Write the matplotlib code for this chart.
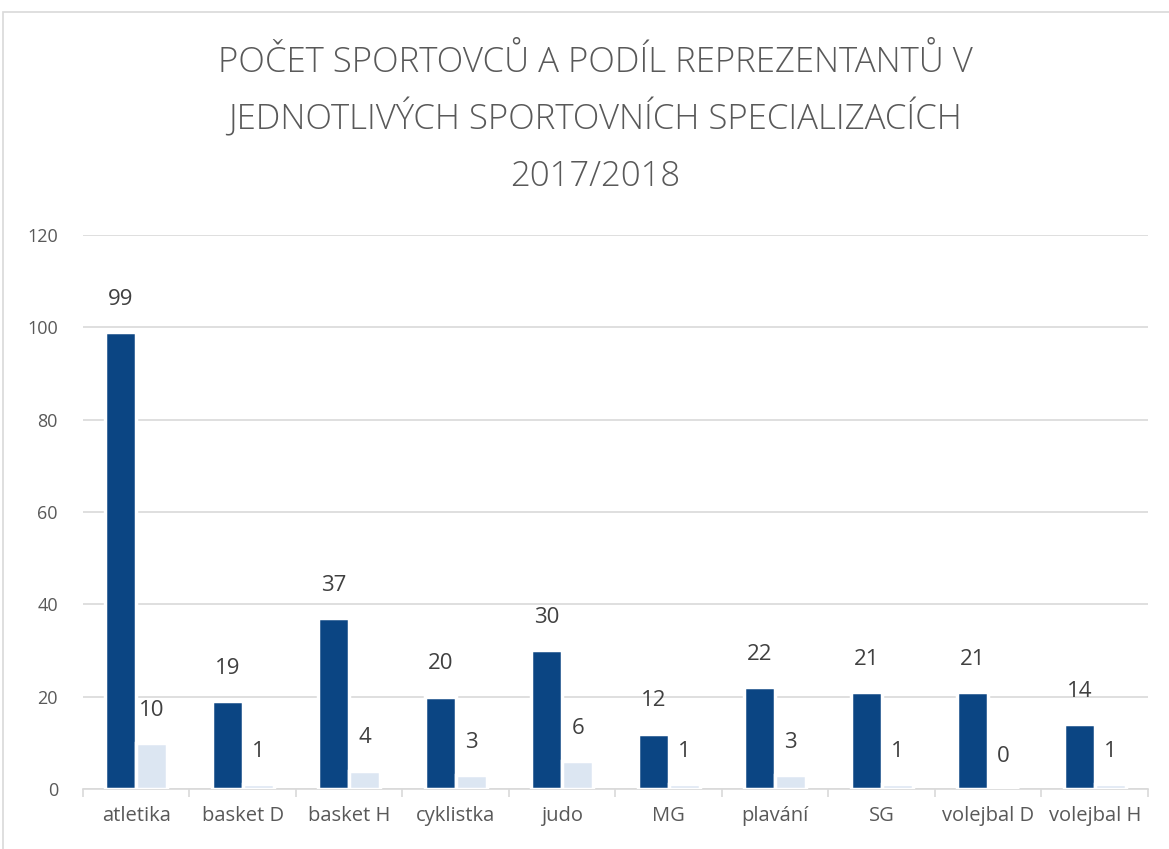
import numpy as np
import matplotlib.pyplot as plt
from matplotlib.patches import Rectangle

kategorie = ['atletika', 'basket D', 'basket H', 'cyklistka', 'judo',
             'MG', 'plavání', 'SG', 'volejbal D', 'volejbal H']
sportovci = [99, 19, 37, 20, 30, 12, 22, 21, 21, 14]
reprezentanti = [10, 1, 4, 3, 6, 1, 3, 1, 0, 1]
y_ticks = [0, 20, 40, 60, 80, 100, 120]

tmava = '#0b4583'
svetla = '#dce6f2'
seda = '#595959'

plt.rcParams['font.family'] = ['Open Sans', 'DejaVu Sans']

fig = plt.figure(figsize=(11.69, 8.49), dpi=100)
ax = fig.add_axes([0.071, 0.0707, 0.911, 0.6525])

# ramecek kolem grafu
fig.patches.append(Rectangle((3 / 1169, -0.1), 1.2, 1.1 - 12 / 849,
                             transform=fig.transFigure, fill=False,
                             edgecolor='#d9d9d9', lw=1.2))

x = np.arange(len(kategorie))
w = 0.29
b1 = ax.bar(x - w / 2, sportovci, w, color=tmava, edgecolor='white', lw=2.5, zorder=3)
b2 = ax.bar(x + w / 2, reprezentanti, w, color=svetla, edgecolor='white', lw=2.5, zorder=3)

for bars, vals in [(b1, sportovci), (b2, reprezentanti)]:
    for r, v in zip(bars, vals):
        ax.annotate(str(v), (r.get_x() + r.get_width() / 2, v),
                    xytext=(0, 16), textcoords='offset points',
                    ha='center', va='bottom', fontsize=16, color='#404040', zorder=4)

ax.set_xlim(-0.5, len(kategorie) - 0.5)
ax.set_ylim(0, 120)
ax.set_yticks(y_ticks)
ax.set_xticks(x)
ax.set_xticklabels(kategorie)
ax.set_xticks(np.arange(-0.5, len(kategorie)), minor=True)
ax.tick_params(axis='x', which='major', length=0, pad=12, labelsize=14.5, labelcolor=seda)
ax.tick_params(axis='x', which='minor', length=6, width=1.2, color='#d9d9d9')
ax.tick_params(axis='y', length=0, pad=18, labelsize=13, labelcolor=seda)
ax.grid(axis='y', color='#d9d9d9', lw=1.2, zorder=0)
for s in ['top', 'right', 'left']:
    ax.spines[s].set_visible(False)
ax.spines['bottom'].set_color('#d9d9d9')
ax.spines['bottom'].set_linewidth(1.2)
ax.spines['bottom'].set_zorder(2)

titul = ['POČET SPORTOVCŮ A PODÍL REPREZENTANTŮ V',
         'JEDNOTLIVÝCH SPORTOVNÍCH SPECIALIZACÍCH',
         '2017/2018']
for i, t in enumerate(titul):
    fig.text(0.509, 1 - (72 + 57 * i) / 849, t, ha='center', va='baseline',
             fontsize=25, color=seda, fontweight='light')

plt.savefig('out.png', dpi=100)
